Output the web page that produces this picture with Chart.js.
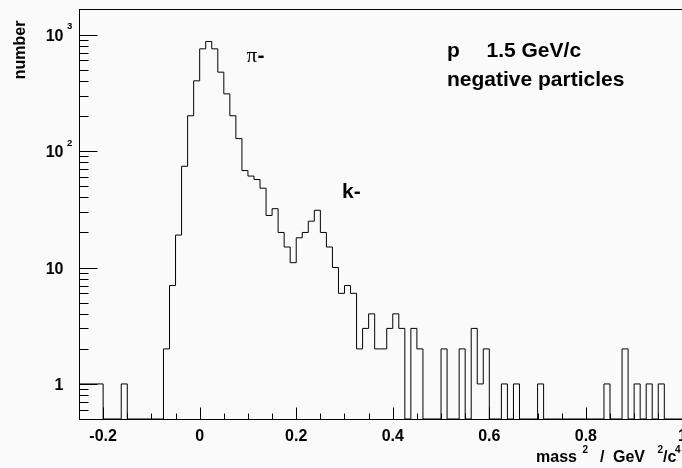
<!DOCTYPE html>
<html>
<head>
<meta charset="utf-8">
<script src="https://cdn.jsdelivr.net/npm/chart.js@4.4.0/dist/chart.umd.min.js"></script>
<style>
html, body { margin: 0; padding: 0; background: #fafafa; overflow: hidden; }
#wrap { width: 682px; height: 468px; overflow: hidden; }
canvas { display: block; }
</style>
</head>
<body>
<div id="wrap"><canvas id="chart" width="700" height="468"></canvas></div>
<script>
// histogram binning (100 bins from -0.25 to 1.0)
const binLow = -0.25;
const binWidth = 0.0125;

// entries per bin
const counts = [
    1, 1, 1, 1, 0, 0, 0, 1, 0, 0,
    0, 0, 0, 0, 2, 7, 19, 74, 201, 401,
    755, 873, 755, 476, 310, 201, 128, 68, 61, 57,
    48, 28, 32, 20, 15, 11, 18, 20, 25, 31,
    20, 15, 10, 6, 7, 6, 2, 3, 4, 2,
    2, 3, 4, 3, 0, 3, 2, 0, 0, 0,
    2, 0, 0, 2, 0, 3, 1, 2, 0, 0,
    1, 0, 1, 0, 0, 0, 1, 0, 0, 0,
    0, 0, 0, 0, 0, 0, 0, 1, 0, 0,
    2, 0, 1, 0, 1, 0, 1, 0, 0, 0
];

const xTickValues = [-0.2, 0, 0.2, 0.4, 0.6, 0.8, 1.0];
const xTickLabels = ['-0.2', '0', '0.2', '0.4', '0.6', '0.8', '1'];
const yTickValues = [1, 10, 100, 1000];
const yTickLabels = [['1', ''], ['10', ''], ['10', '2'], ['10', '3']];
const yMin = 0.5;
const yMax = 1660;

const FONT = '"Liberation Sans", Arial, Helvetica, sans-serif';

// step outline of the histogram, zero bins fall to the bottom of the frame
const points = [{ x: binLow, y: yMin }];
counts.forEach((c, i) => {
    points.push({ x: binLow + i * binWidth, y: c > 0 ? c : yMin });
});
points.push({ x: binLow + counts.length * binWidth, y: yMin });

function drawSup(ctx, base, sup, x, y, size) {
    ctx.font = `bold ${size}px ${FONT}`;
    ctx.textAlign = 'right';
    ctx.fillText(base, x, y);
    if (sup) {
        ctx.font = `bold ${size * 0.6}px ${FONT}`;
        ctx.textAlign = 'left';
        ctx.fillText(sup, x + 3.5, y - 11.4);
    }
}

const rootFrame = {
    id: 'rootFrame',
    afterDraw(chart) {
        const ctx = chart.ctx;
        const ca = chart.chartArea;
        const xs = chart.scales.x;
        const ys = chart.scales.y;
        const left = Math.round(ca.left) + 0.5;
        const top = Math.round(ca.top) + 0.5;
        const bottom = Math.round(ca.bottom) + 0.5;
        const right = Math.round(ca.right) + 0.5;

        ctx.save();
        ctx.strokeStyle = '#000';
        ctx.lineWidth = 1;
        ctx.strokeRect(left, top, right - left, bottom - top);

        // x ticks, pointing into the frame
        ctx.beginPath();
        for (let k = -5; k <= 20; k++) {
            const px = Math.round(xs.getPixelForValue(k * 0.05)) + 0.5;
            const len = (k % 4 === 0) ? 12 : 6;
            ctx.moveTo(px, bottom);
            ctx.lineTo(px, bottom - len);
        }
        // y ticks on the log axis
        for (let d = -1; d <= 3; d++) {
            for (let m = 1; m <= 9; m++) {
                const v = m * Math.pow(10, d);
                if (v < yMin || v > yMax) continue;
                const py = Math.round(ys.getPixelForValue(v)) + 0.5;
                ctx.moveTo(left, py);
                ctx.lineTo(left + (m === 1 ? 18 : 9), py);
            }
        }
        ctx.stroke();

        ctx.fillStyle = '#000';
        ctx.textBaseline = 'alphabetic';

        // y tick labels (10^n style)
        yTickValues.forEach((v, i) => {
            const py = ys.getPixelForValue(v);
            drawSup(ctx, yTickLabels[i][0], yTickLabels[i][1], 63.5, py + 6, 16);
        });

        // y title
        ctx.save();
        ctx.translate(25, 20.5);
        ctx.rotate(-Math.PI / 2);
        ctx.font = `bold 16px ${FONT}`;
        ctx.textAlign = 'right';
        ctx.fillText('number', 0, 0);
        ctx.restore();

        // x title: mass^2 / GeV^2/c^4
        const bx = 536;
        const by = 461.7;
        ctx.textAlign = 'left';
        ctx.font = `bold 16px ${FONT}`;
        ctx.fillText('mass', bx, by);
        ctx.fillText('/', bx + 64, by);
        ctx.fillText('GeV', bx + 77, by);
        ctx.fillText('/c', bx + 127, by);
        ctx.font = `bold 10px ${FONT}`;
        ctx.fillText('2', bx + 46.5, by - 9);
        ctx.fillText('2', bx + 121.5, by - 9);
        ctx.fillText('4', bx + 139, by - 9);

        // peak labels
        ctx.font = `21px "Liberation Serif", "DejaVu Serif", serif`;
        ctx.fillText('\u03c0', 246.5, 61.5);
        const piW = ctx.measureText('\u03c0').width;
        ctx.font = `bold 21px ${FONT}`;
        ctx.fillText('-', 246.5 + piW + 0.5, 61.5);
        ctx.fillText('k-', 342, 198);

        // beam info
        ctx.fillText('p', 447, 57);
        ctx.fillText('1.5 GeV/c', 486.5, 57);
        ctx.fillText('negative particles', 447, 85.5);
        ctx.restore();
    }
};

new Chart(document.getElementById('chart'), {
    type: 'line',
    data: {
        datasets: [{
            data: points,
            stepped: 'before',
            borderColor: '#000',
            borderWidth: 1,
            pointRadius: 0,
            fill: false,
            tension: 0
        }]
    },
    options: {
        responsive: false,
        animation: false,
        layout: { padding: { left: 0, top: 9, right: 700 - 682.4, bottom: 0 } },
        plugins: { legend: { display: false }, tooltip: { enabled: false } },
        scales: {
            x: {
                type: 'linear',
                min: binLow,
                max: binLow + counts.length * binWidth,
                grid: { display: false, drawTicks: false },
                border: { display: false },
                afterBuildTicks: scale => {
                    scale.ticks = xTickValues.map(v => ({ value: v }));
                },
                ticks: {
                    callback: (value, index) => xTickLabels[index],
                    font: { family: FONT, size: 16, weight: 'bold' },
                    color: '#000',
                    padding: 8,
                    maxRotation: 0,
                    autoSkip: false
                },
                afterFit: scale => { scale.height = 49; }
            },
            y: {
                type: 'logarithmic',
                min: yMin,
                max: yMax,
                grid: { display: false, drawTicks: false },
                border: { display: false },
                ticks: { display: false },
                afterFit: scale => { scale.width = 79; }
            }
        }
    },
    plugins: [rootFrame]
});
</script>
</body>
</html>
